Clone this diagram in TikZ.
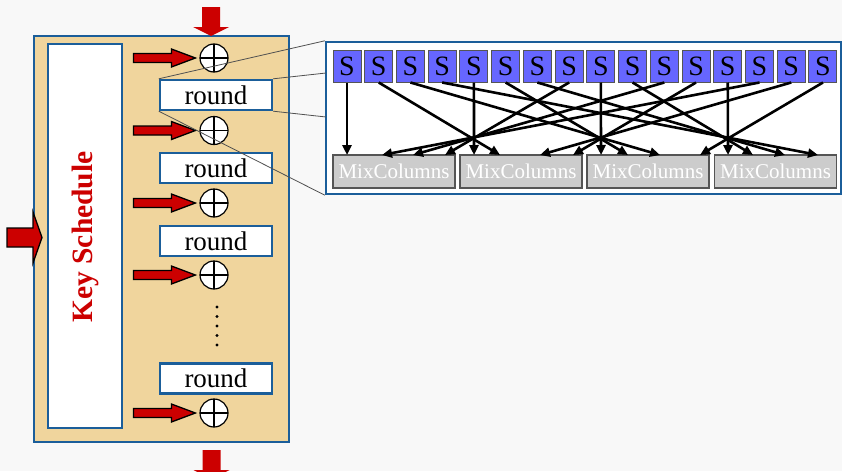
\documentclass[tikz,border=0pt]{standalone}
\usepackage{fontspec}
\setmainfont{Liberation Serif}
\usetikzlibrary{arrows.meta}
\definecolor{paper}{HTML}{F8F8F8}
\definecolor{tanfill}{HTML}{F0D59D}
\definecolor{frameblue}{HTML}{1B5E9A}
\definecolor{keyred}{HTML}{CC0000}
\definecolor{sblue}{HTML}{6666FF}
\definecolor{mcgray}{HTML}{CCCCCC}
\definecolor{edgegray}{HTML}{555555}
\definecolor{zoomgray}{HTML}{505050}

\tikzset{
  framebox/.style={draw=frameblue, line width=2.4pt, fill=white, inner sep=0pt},
  roundbox/.style={framebox, minimum width=112pt, minimum height=30pt,
    font=\fontsize{27}{27}\selectfont},
  xorop/.style={circle, draw=black, fill=white, line width=1.2pt,
    minimum size=28pt, inner sep=0pt,
    path picture={\draw[line width=1.2pt]
      (path picture bounding box.north) -- (path picture bounding box.south)
      (path picture bounding box.west) -- (path picture bounding box.east);}},
  sbox/.style={draw=edgegray, line width=1pt, fill=sblue, minimum width=28pt,
    minimum height=32pt, inner sep=0pt, font=\fontsize{28}{28}\selectfont},
  mcbox/.style={draw=edgegray, line width=1.2pt, fill=mcgray, text=white,
    minimum width=122pt, minimum height=33pt, inner sep=0pt,
    font=\fontsize{21}{21}\selectfont},
  wire/.style={line width=2.6pt, -{Triangle[length=10pt,width=9pt]}},
  zoomline/.style={draw=zoomgray, line width=0.8pt},
  redfill/.style={fill=keyred, draw=black, line width=1.3pt, line join=miter},
  % red block arrow pointing right, origin at its tip
  keyarrow/.pic={\path[redfill] (0,0) -- (-24,-9) -- (-24,-4.5) -- (-62,-4.5)
      -- (-62,4.5) -- (-24,4.5) -- (-24,9) -- cycle;},
  % red block arrow pointing down, origin at its tip
  downarrow/.pic={\path[fill=keyred] (0,0) -- (-18,-9) -- (-9,-9) -- (-9,-29)
      -- (9,-29) -- (9,-9) -- (18,-9) -- cycle;}
}

\begin{document}
\begin{tikzpicture}[x=1pt,y=-1pt]
  \useasboundingbox[fill=paper] (0,0) rectangle (842,471);

  % cipher block with the key schedule
  \node[framebox, fill=tanfill, minimum width=255pt, minimum height=406pt]
    (cipher) at (161.5,239) {};
  \node[framebox, line width=2pt, minimum width=74pt, minimum height=384pt]
    (keysched) at (85,236) {};
  \node[rotate=90, text=keyred, font=\bfseries\fontsize{29.5}{29.5}\selectfont]
    (keylabel) at (85,237) {Key Schedule};

  % round functions and key additions
  \node[roundbox] (r1) at (216,95) {round};
  \node[roundbox] (r2) at (216,168) {round};
  \node[roundbox] (r3) at (216,241) {round};
  \node[roundbox] (r4) at (216,378.5) {round};

  \foreach \k/\y in {1/58,2/130.5,3/203,4/275,5/413}{
    \node[xorop] (x\k) at (214,\y) {};
    \path (x\k.west) ++(-4,0) pic {keyarrow};
  }

  \foreach \y [count=\k] in {307,316.5,326,335.5,345}
    \fill (217,\y) circle (1.7pt) coordinate (dot\k);

  % data in, data out, key in
  \path (211,36) pic {downarrow};
  \begin{scope}
    \clip (0,0) rectangle (842,471);
    \path (211.5,479) pic {downarrow};
  \end{scope}
  \path[redfill] (42,237.5) -- (33,212) -- (33,228) -- (7,228) -- (7,247)
    -- (33,247) -- (33,263) -- cycle;

  % detail of one round
  \node[framebox, minimum width=515pt, minimum height=152pt]
    (detail) at (583.5,118) {};

  \foreach \i in {0,...,15}
    \node[sbox] (s\i) at ({347+31.73*\i},66) {S};

  \foreach \c/\x in {0/394,1/521,2/648,3/775.5}
    \node[mcbox] (mc\c) at (\x,171.5) {MixColumns};

  \foreach \x [count=\k from 0] in {347,382,413,445,474,500,540,573,
                                    601,628,660,700,728,753,785,818}
    \coordinate (in\k) at (\x,155);

  \foreach \j in {0,...,3}{
    \foreach \r in {0,...,3}{
      \pgfmathtruncatemacro\src{4*\j+\r}
      \pgfmathtruncatemacro\dst{4*mod(\j+\r,4)+\r}
      \draw[wire] (s\src.south) -- (in\dst);
    }
  }

  % magnifier lines from the first round to its detail
  \coordinate (dA) at (326,73);
  \coordinate (dB) at (326,117);
  \draw[zoomline] (r1.north west) -- (detail.north west);
  \draw[zoomline] (r1.north east) -- (dA);
  \draw[zoomline] (r1.south east) -- (dB);
  \draw[zoomline] (r1.south west) -- (detail.south west);
\end{tikzpicture}
\end{document}
